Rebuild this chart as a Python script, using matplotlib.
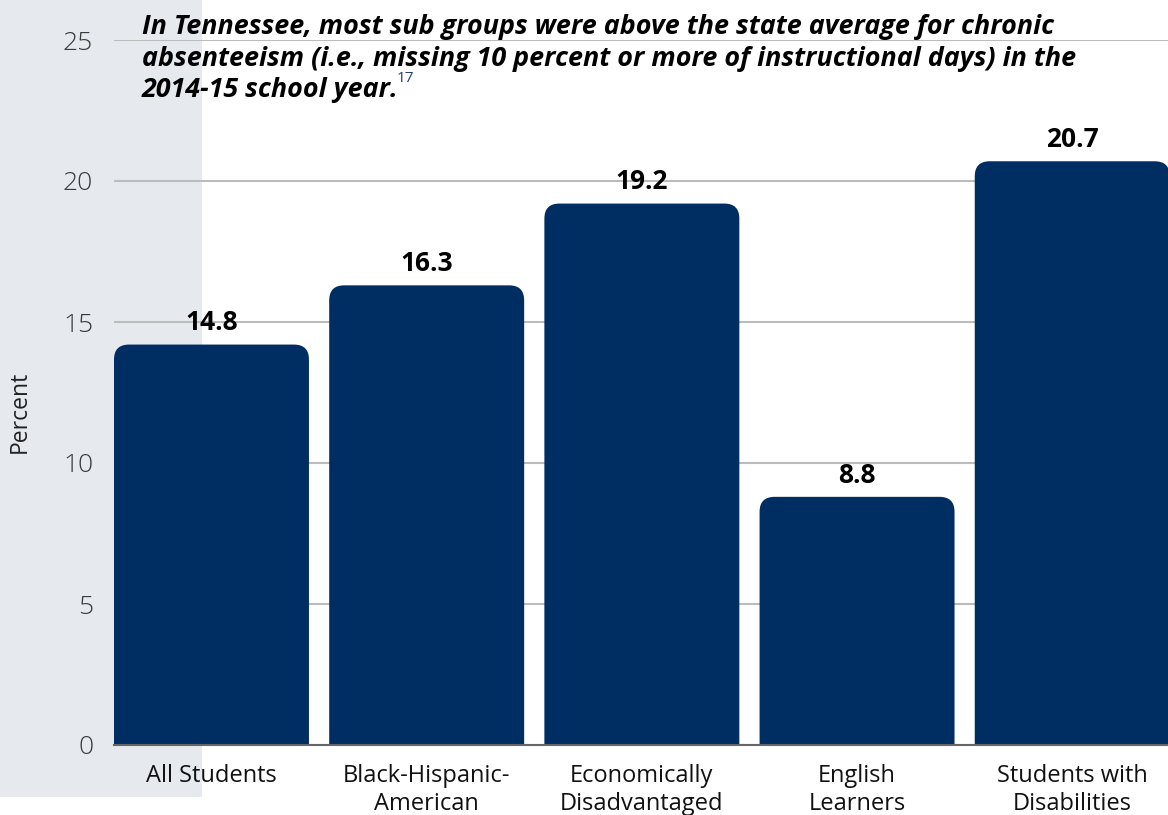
import matplotlib
matplotlib.use("Agg")
import matplotlib.pyplot as plt
from matplotlib.patches import FancyBboxPatch, Rectangle

categories = ["All Students", "Black-Hispanic-\nAmerican", "Economically\nDisadvantaged",
              "English\nLearners", "Students with\nDisabilities"]
bar_values = [14.2, 16.3, 19.2, 8.8, 20.7]
value_labels = ["14.8", "16.3", "19.2", "8.8", "20.7"]
y_ticks = [0, 5, 10, 15, 20, 25]
title_lines = ["In Tennessee, most sub groups were above the state average for chronic",
               "absenteeism (i.e., missing 10 percent or more of instructional days) in the",
               "2014-15 school year."]
footnote = "17"

plt.rcParams['font.family'] = ['Open Sans', 'DejaVu Sans']

W, H = 1168, 815
fig = plt.figure(figsize=(W / 100, H / 100), dpi=100)
fig.patch.set_facecolor("white")

# background axes with grey side band
bg = fig.add_axes([0, 0, 1, 1], zorder=0)
bg.set_axis_off()
bg.set_xlim(0, 1)
bg.set_ylim(0, 1)
bg.add_patch(Rectangle((0, 1 - 797 / H), 202 / W, 797 / H, facecolor="#e6e9ee",
                       edgecolor="none"))

ax = fig.add_axes([114 / W, 70 / H, (W - 114) / W, 705 / H], zorder=1)
ax.patch.set_alpha(0)

x = list(range(len(categories)))
bw = 0.906
bars = ax.bar(x, bar_values, width=bw, color="#002d62", zorder=3)
ax.set_xlim(-bw / 2, 4.445)
ax.set_ylim(0, 25)

fig.canvas.draw()
px_x = ax.transData.transform((1, 0))[0] - ax.transData.transform((0, 0))[0]
px_y = ax.transData.transform((0, 1))[1] - ax.transData.transform((0, 0))[1]
r_px = 15
for i, b in enumerate(bars):
    b.set_visible(False)
    xb, hb, wb = b.get_x(), b.get_height(), b.get_width()
    p = FancyBboxPatch((xb, -2), wb, hb + 2,
                       boxstyle=f"round,pad=0,rounding_size={r_px / px_x}",
                       mutation_aspect=px_x / px_y,
                       facecolor="#002d62", edgecolor="none", zorder=3, clip_on=True)
    ax.add_patch(p)
    ax.annotate(value_labels[i], (xb + wb / 2, hb), xytext=(0, 6),
                textcoords="offset points", ha="center", va="bottom",
                fontsize=19, fontweight="bold", color="black", zorder=5)

ax.set_yticks(y_ticks)
ax.set_yticklabels([str(t) for t in y_ticks], fontsize=19, fontweight="light", color="#3a3a3a")
ax.set_xticks(x)
ax.set_xticklabels(categories, fontsize=17, color="#111111", linespacing=1.17)
ax.tick_params(axis="both", length=0)
ax.tick_params(axis="y", pad=15)
ax.tick_params(axis="x", pad=14)
ax.grid(axis="y", color="#bcbcbc", linewidth=1.5, zorder=1)
ax.set_axisbelow(True)
for s in ["top", "right", "left"]:
    ax.spines[s].set_visible(False)
ax.spines["bottom"].set_color("#666666")
ax.spines["bottom"].set_linewidth(1.5)
ax.spines["bottom"].set_zorder(4)

fig.text(20 / W, 1 - 412 / H, "Percent", rotation=90, fontsize=16.5, color="#222222",
         ha="center", va="center", zorder=6)

ys = [27, 59, 90]
last = None
for line, yy in zip(title_lines, ys):
    last = fig.text(142 / W, 1 - yy / H, line, fontsize=19.4, fontweight="bold",
                    fontstyle="italic", color="black", ha="left", va="center", zorder=6)
fig.canvas.draw()
bb = last.get_window_extent()
fig.text((bb.x1 - 2) / W, (bb.y1 - 1) / H, footnote, fontsize=11, color="#1f3f7f",
         ha="left", va="center", zorder=6)

fig.savefig("out.png", dpi=100)
